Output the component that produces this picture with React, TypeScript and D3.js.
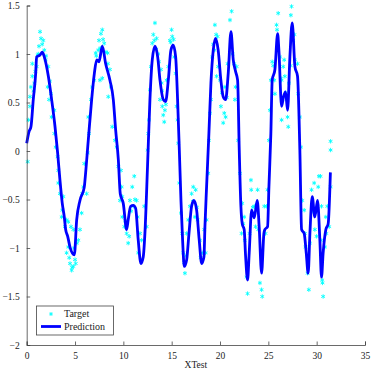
import React, { useRef, useEffect } from 'react';
import * as d3 from 'd3';

// --- Data ---
const xTicks = [0, 5, 10, 15, 20, 25, 30, 35];
const yTicks = [-2, -1.5, -1, -0.5, 0, 0.5, 1, 1.5];
const legendLabels = ['Target', 'Prediction'];
const axisLabel = 'XTest';

// Prediction line [x, y]
const predX = [
  0, 0.24, 0.44, 0.68, 0.93, 1.03, 1.38, 1.62, 1.82, 2.24, 2.58, 2.93, 3.2, 3.44, 3.68, 3.89, 4.03, 4.24, 4.48, 4.93,
  5.17, 5.51, 5.96, 6.03, 6.37, 6.72, 7.0, 7.24, 7.48, 7.82, 8.17, 8.61, 8.96, 9.2, 9.48, 9.68, 9.99, 10.34, 10.5,
  10.75, 11.03, 11.27, 11.54, 11.82, 12.06, 12.23, 12.5, 12.75, 12.99, 13.27, 13.55, 13.79, 14.13, 14.37, 14.65,
  14.92, 15.16, 15.41, 15.61, 15.79, 15.96, 16.13, 16.3, 16.55, 16.79, 17.06, 17.3, 17.58, 17.85, 18.1, 18.34,
  18.44, 18.61, 18.85, 19.06, 19.3, 19.54, 19.81, 20.09, 20.33, 20.58, 20.85, 21.13, 21.37, 21.61, 21.82, 21.99,
  22.16, 22.3, 22.5, 22.65, 22.85, 23.02, 23.27, 23.54, 23.85, 24.05, 24.3, 24.54, 24.64, 24.92, 25.06, 25.26,
  25.4, 25.68, 25.96, 26.09, 26.37, 26.57, 26.78, 26.99, 27.23, 27.47, 27.75, 28.02, 28.26, 28.44, 28.71, 28.92,
  29.12, 29.3, 29.54, 29.81, 30.09, 30.33, 30.5, 30.67, 30.95, 31.19, 31.42,
];
const predY = [
  0.08, 0.2, 0.25, 0.53, 0.8, 0.97, 0.99, 1.02, 0.97, 0.77, 0.53, 0.25, -0.02, -0.3, -0.54, -0.68, -0.81, -0.88,
  -0.99, -1.07, -0.71, -0.51, -0.37, -0.3, 0.11, 0.53, 0.8, 0.94, 0.92, 1.08, 0.9, 0.73, 0.53, 0.22, -0.09, -0.44,
  -0.54, -0.81, -0.71, -0.57, -0.56, -0.59, -0.92, -1.16, -1.09, -0.85, -0.16, 0.53, 0.94, 1.08, 0.97, 0.73, 0.53,
  0.51, 0.73, 1.04, 1.09, 0.97, 0.53, 0.01, -0.51, -0.92, -1.19, -1.12, -0.85, -0.57, -0.51, -0.61, -0.92, -1.16,
  -1.09, -0.78, -0.37, 0.18, 0.7, 1.04, 1.16, 1.04, 0.73, 0.56, 0.53, 0.8, 1.23, 0.94, 0.82, 0.73, 0.01, -0.57,
  -0.75, -0.81, -1.09, -1.33, -1.05, -0.61, -0.69, -0.51, -0.78, -1.26, -0.85, -0.81, -0.78, -0.37, 0.18, 0.73,
  0.84, 1.21, 1.04, 0.46, 0.56, 0.61, 0.42, 0.97, 1.32, 0.87, 0.77, 0.01, -0.81, -0.85, -1.05, -1.26, -0.85,
  -0.47, -0.68, -0.51, -0.92, -1.3, -1.05, -0.81, -0.75, -0.22,
];

// Target samples [x, y]
const targetX = [
  0.1, 0.17, 0.34, 0.34, 0.44, 0.58, 0.58, 0.79, 1.03, 1.14, 1.27, 1.38, 1.48, 1.72, 1.82, 1.96, 2.24, 2.17, 2.31,
  2.51, 2.58, 2.86, 2.86, 3.0, 3.2, 3.27, 3.27, 3.44, 3.68, 3.79, 3.62, 3.96, 4.13, 4.3, 4.58, 4.82, 4.13, 4.3,
  4.48, 4.65, 4.82, 5.07, 5.34, 5.51, 5.68, 5.75, 5.86, 5.96, 6.2, 6.31, 6.44, 6.37, 6.65, 6.78, 6.99, 7.14, 7.4,
  7.48, 7.68, 7.82, 8.02, 7.58, 7.82, 8.37, 8.61, 8.72, 8.44, 8.85, 9.13, 9.31, 9.48, 9.75, 9.82, 9.89, 9.65, 9.89,
  10.1, 10.34, 10.5, 10.68, 10.92, 11.13, 11.03, 11.37, 11.48, 11.72, 11.54, 11.89, 12.16, 12.41, 12.51, 12.58,
  12.65, 12.75, 12.85, 12.99, 13.2, 13.27, 13.44, 13.68, 13.89, 13.96, 13.79, 14.03, 14.13, 14.23, 14.3, 14.48,
  14.65, 14.82, 14.99, 15.06, 15.27, 15.41, 15.51, 15.61, 15.68, 15.79, 15.96, 16.09, 16.2, 16.37, 16.55, 16.72,
  16.89, 17.06, 17.23, 17.48, 17.41, 17.68, 17.92, 18.16, 18.37, 18.51, 18.61, 18.78, 18.85, 18.96, 19.06, 19.2,
  19.41, 19.47, 19.75, 19.81, 19.65, 20.0, 20.09, 20.33, 20.44, 20.58, 20.51, 20.79, 21.03, 21.2, 21.13, 21.47,
  21.72, 21.61, 21.54, 21.88, 22.06, 22.3, 22.23, 22.5, 22.57, 22.75, 22.85, 23.06, 23.23, 23.2, 23.54, 23.68,
  23.89, 23.96, 24.13, 24.3, 24.37, 24.58, 24.71, 24.82, 24.92, 25.06, 25.16, 25.26, 25.4, 25.61, 25.68, 25.85,
  26.02, 26.2, 26.37, 26.37, 26.54, 26.64, 26.71, 26.89, 26.99, 27.06, 27.13, 27.33, 27.4, 27.57, 27.75, 28.02,
  28.09, 28.26, 28.37, 28.51, 28.71, 28.78, 28.85, 29.06, 29.19, 29.47, 29.74, 29.81, 29.99, 30.23, 30.16, 30.44,
  30.57, 30.67, 30.4, 30.5, 30.6, 30.85, 30.95, 31.0, 31.1, 31.3, 31.44, 31.44, 31.44,
  // denser clusters around the peaks and troughs
  0.7, 0.9, 1.2, 1.6, 2.0, 2.4, 4.4, 4.7, 5.0, 5.2, 4.9, 7.2, 7.6, 7.9, 8.2, 8.4, 10.2, 10.6, 10.8, 11.2,
  13.1, 13.4, 13.6, 14.0, 14.4, 14.9, 15.2, 16.3, 16.5, 17.2, 17.6, 18.0, 19.3, 19.6, 20.2, 20.7, 21.3,
  22.4, 23.4, 23.8, 25.5, 25.9, 26.3, 26.8, 27.3, 27.7, 29.3, 29.6, 30.0,
];
const targetY = [
  -0.11, 0.32, 0.46, 0.56, 0.66, 0.77, 0.9, 0.7, 0.87, 0.99, 1.08, 1.23, 1.16, 1.14, 1.04, 0.94, 0.87, 0.66, 0.53,
  0.59, 0.35, 0.42, 0.18, 0.04, -0.06, -0.2, -0.33, -0.44, -0.61, -0.47, -0.68, -0.78, -0.71, -0.73, -0.78, -0.81,
  -1.05, -0.99, -1.16, -1.23, -1.19, -1.16, -0.92, -0.81, -0.64, -0.44, -0.37, -0.13, -0.44, -0.02, 0.18, 0.35,
  0.53, 0.66, 0.73, 1.01, 1.04, 1.14, 1.21, 1.25, 1.11, 0.73, 0.75, 1.01, 0.84, 0.66, 0.56, 0.25, 0.11, 0.04, -0.16,
  -0.2, -0.37, -0.47, -0.51, -0.68, -0.78, -0.85, -0.95, -0.51, -0.37, -0.26, -0.57, -0.51, -0.68, -0.85, -1.05,
  -0.92, -0.57, -0.78, 0.01, 0.18, 0.32, 0.63, 0.87, 1.11, 1.14, 1.32, 1.16, 0.92, 0.84, 0.7, 0.53, 0.46, 0.37, 0.3,
  0.42, 0.73, 0.87, 1.14, 1.25, 1.18, 0.97, 0.8, 0.46, 0.32, 0.08, -0.33, -0.64, -0.85, -1.05, -1.26, -0.85, -0.71,
  -0.57, -0.44, -0.37, -0.4, -0.68, -0.71, -0.92, -1.05, -0.81, -1.05, -0.71, -0.23, 0.11, 0.39, 0.53, 0.97, 1.04,
  1.3, 1.18, 0.87, 0.77, 0.73, 0.46, 0.29, 0.39, 0.35, 0.66, 0.9, 1.35, 1.44, 1.18, 0.9, 0.87, 0.66, 0.53, 0.11,
  -0.23, -0.54, -0.85, -0.68, -0.92, -1.3, -1.47, -0.85, -0.4, -0.3, -0.57, -0.78, -0.4, -0.81, -1.36, -1.43, -1.5,
  -0.57, -0.85, -0.57, -0.4, 0.11, 0.42, 0.73, 0.92, 0.73, 0.59, 1.3, 1.42, 0.97, 0.73, 0.32, 0.87, 0.94, 0.77,
  0.53, 0.35, 0.25, 0.7, 1.4, 1.49, 1.14, 0.94, 0.9, 0.59, 0.35, 0.04, -0.51, -0.61, -0.85, -0.99, -1.26, -1.43,
  -0.4, -0.33, -0.81, -0.88, -0.26, -0.37, -0.92, -1.33, -1.5, -0.26, -0.57, -1.36, -0.99, -0.68, -0.85, -0.57,
  -0.78, -0.37, 0.1, 0.01,
  0.62, 0.82, 1.0, 1.1, 0.98, 0.72, -1.1, -1.2, -1.12, -0.95, -1.0, 0.98, 1.06, 1.15, 1.02, 0.9, -0.72, -0.88,
  -0.62, -0.5, 1.2, 1.05, 1.0, 0.62, 0.48, 1.12, 1.15, -1.15, -1.08, -0.52, -0.58, -1.1, 1.1, 1.2, 0.6, 0.55,
  1.0, -0.75, -0.58, -0.55, 0.88, 1.25, 0.75, 0.6, 0.88, 1.2, -0.95, -0.62, -0.62,
];

const W = 374;
const H = 371;

const App = () => {
  const ref = useRef<SVGSVGElement>(null);

  useEffect(() => {
    const svg = d3.select(ref.current);
    svg.selectAll('*').remove();

    const font = 'Liberation Serif, DejaVu Serif, serif';

    const x = d3.scaleLinear().domain([0, 35]).range([26.7, 365]);
    const y = d3.scaleLinear().domain([-2, 1.5]).range([345, 5.5]);

    // --- Target asterisks ---
    const targets = d3.zip(targetX, targetY);
    const star = (r: number) => {
      const p = d3.path();
      for (const a of [90, 30, -30]) {
        const rad = (a * Math.PI) / 180;
        p.moveTo(r * Math.cos(rad), -r * Math.sin(rad));
        p.lineTo(-r * Math.cos(rad), r * Math.sin(rad));
      }
      return p.toString();
    };
    svg.append('g')
      .selectAll('path')
      .data(targets)
      .enter()
      .append('path')
      .attr('transform', d => `translate(${x(d[0])},${y(d[1])})`)
      .attr('d', star(2.2))
      .attr('stroke', '#00ffff')
      .attr('stroke-width', 0.9)
      .attr('fill', 'none');

    // --- Prediction line ---
    const line = d3.line<[number, number]>()
      .x(d => x(d[0]))
      .y(d => y(d[1]))
      .curve(d3.curveMonotoneX);
    svg.append('path')
      .datum(d3.zip(predX, predY) as [number, number][])
      .attr('fill', 'none')
      .attr('stroke', '#0000ff')
      .attr('stroke-width', 2.8)
      .attr('stroke-linejoin', 'round')
      .attr('d', line);

    // --- Axes ---
    const fmt = (v: number) => String(v).replace('-', '\u2212');
    const gx = svg.append('g')
      .attr('transform', `translate(0,${y(-2)})`)
      .call(d3.axisBottom(x).tickValues(xTicks).tickSize(-3.5).tickPadding(7).tickFormat(d => fmt(+d)));
    const gy = svg.append('g')
      .attr('transform', `translate(${x(0)},0)`)
      .call(d3.axisLeft(y).tickValues(yTicks).tickSize(-3.5).tickPadding(7).tickFormat(d => fmt(+d)));
    for (const g of [gx, gy]) {
      g.attr('font-family', font).attr('font-size', 9.5);
      g.select('.domain').attr('stroke', '#444').attr('stroke-width', 0.8);
      g.selectAll('.tick line').attr('stroke', '#444').attr('stroke-width', 0.8);
      g.selectAll('.tick text').attr('fill', '#222');
    }

    svg.append('text')
      .attr('x', (x(0) + x(35)) / 2)
      .attr('y', 368)
      .attr('text-anchor', 'middle')
      .attr('fill', '#222')
      .attr('font-family', font)
      .attr('font-size', 9.5)
      .text(axisLabel);

    // --- Legend ---
    const lg = svg.append('g');
    lg.append('rect')
      .attr('x', 36.5)
      .attr('y', 306)
      .attr('width', 77)
      .attr('height', 29)
      .attr('fill', '#fff')
      .attr('stroke', '#444')
      .attr('stroke-width', 0.8);
    lg.append('path')
      .attr('transform', 'translate(51,314)')
      .attr('d', star(2))
      .attr('stroke', '#00ffff')
      .attr('stroke-width', 0.9);
    lg.append('line')
      .attr('x1', 41).attr('x2', 61)
      .attr('y1', 326.5).attr('y2', 326.5)
      .attr('stroke', '#0000ff')
      .attr('stroke-width', 2.8);
    lg.selectAll('text.lab')
      .data(legendLabels)
      .enter()
      .append('text')
      .attr('class', 'lab')
      .attr('x', 64)
      .attr('y', (d, i) => 317 + i * 12.5)
      .attr('fill', '#222')
      .attr('font-family', font)
      .attr('font-size', 10)
      .text(d => d);
  }, []);

  return (
    <div style={{ position: 'fixed', left: 0, top: 0 }}>
      <svg ref={ref} width={W} height={H} style={{ display: 'block', background: '#fff' }}></svg>
    </div>
  );
};

export default App;
